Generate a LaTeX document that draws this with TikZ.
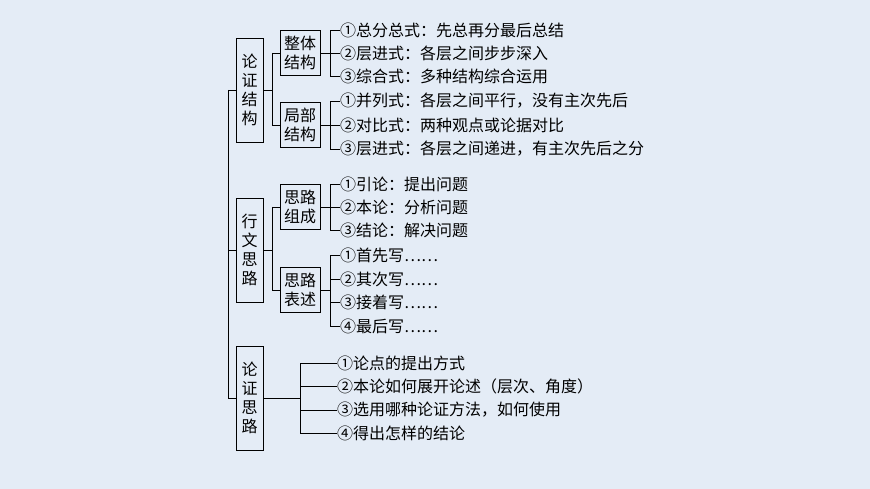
\documentclass[tikz,border=0pt]{standalone}
\usepackage{fontspec}
\newfontfamily\cjk{Noto Sans CJK SC}
\definecolor{bgblue}{HTML}{E4ECF6}
\tikzset{
  kasse/.style={draw, line width=0.8pt, fill=bgblue, inner sep=2pt, align=center, font=\cjk\fontsize{16}{19}\selectfont},
  hoved/.style={kasse, minimum width=27pt, minimum height=104pt, text width=18pt},
  under/.style={kasse, minimum width=40pt, minimum height=45pt},
  blad/.style={anchor=west, inner sep=0pt, font=\cjk\fontsize{16}{18}\selectfont},
  linje/.style={line width=0.8pt}
}
\begin{document}
\begin{tikzpicture}[x=1pt,y=-1pt]
	% Bakgrunn
	\fill[bgblue] (0,0) rectangle (870,489);
	\useasboundingbox (0,0) rectangle (870,489);
	
	% Hovedbokser
	\node[hoved] (lzjg) at (249.5,90) {论\\证\\结\\构};
	\node[hoved] (xwsl) at (249.5,250) {行\\文\\思\\路};
	\node[hoved] (lzsl) at (249.5,398) {论\\证\\思\\路};
	
	% Ryggrad
	\coordinate (rygg) at (228,0);
	\draw[linje] (rygg |- lzjg.west) -- (rygg |- lzsl.west);
	\foreach \b in {lzjg,xwsl,lzsl}
	\draw[linje] (rygg |- \b.west) -- (\b.west);
	
	% Underbokser
	\node[under] (ztjg) at (300,53) {整体\\结构};
	\node[under] (jbjg) at (300,125) {局部\\结构};
	\node[under] (slzc) at (300,207) {思路\\组成};
	\node[under] (slbs) at (300,290) {思路\\表述};
	
	% Forgreninger fra hovedbokser
	\coordinate (g1) at (272,0);
	\draw[linje] (lzjg.east) -- (g1 |- lzjg.east);
	\draw[linje] (g1 |- ztjg.west) -- (g1 |- jbjg.west);
	\draw[linje] (g1 |- ztjg.west) -- (ztjg.west);
	\draw[linje] (g1 |- jbjg.west) -- (jbjg.west);
	\draw[linje] (xwsl.east) -- (g1 |- xwsl.east);
	\draw[linje] (g1 |- slzc.west) -- (g1 |- slbs.west);
	\draw[linje] (g1 |- slzc.west) -- (slzc.west);
	\draw[linje] (g1 |- slbs.west) -- (slbs.west);
	
	% Blader
	\node[blad] (a1) at (340,30) {①总分总式：先总再分最后总结};
	\node[blad] (a2) at (340,53) {②层进式：各层之间步步深入};
	\node[blad] (a3) at (340,76) {③综合式：多种结构综合运用};
	\node[blad] (b1) at (340,101) {①并列式：各层之间平行，没有主次先后};
	\node[blad] (b2) at (340,125) {②对比式：两种观点或论据对比};
	\node[blad] (b3) at (340,149) {③层进式：各层之间递进，有主次先后之分};
	\node[blad] (c1) at (340,184) {①引论：提出问题};
	\node[blad] (c2) at (340,207) {②本论：分析问题};
	\node[blad] (c3) at (340,230) {③结论：解决问题};
	\node[blad] (d1) at (340,255) {①首先写……};
	\node[blad] (d2) at (340,279) {②其次写……};
	\node[blad] (d3) at (340,302) {③接着写……};
	\node[blad] (d4) at (340,326) {④最后写……};
	\node[blad] (e1) at (337,363) {①论点的提出方式};
	\node[blad] (e2) at (337,386) {②本论如何展开论述（层次、角度）};
	\node[blad] (e3) at (337,410) {③选用哪种论证方法，如何使用};
	\node[blad] (e4) at (337,433) {④得出怎样的结论};
	
	% Klammer til blader
	\coordinate (g2) at (330,0);
	\draw[linje] (ztjg.east) -- (g2 |- ztjg.east);
	\draw[linje] (a1.west) -- (g2 |- a1.west) -- (g2 |- a3.west) -- (a3.west);
	\draw[linje] (jbjg.east) -- (g2 |- jbjg.east);
	\draw[linje] (b1.west) -- (g2 |- b1.west) -- (g2 |- b3.west) -- (b3.west);
	\draw[linje] (slzc.east) -- (g2 |- slzc.east);
	\draw[linje] (c1.west) -- (g2 |- c1.west) -- (g2 |- c3.west) -- (c3.west);
	\draw[linje] (slbs.east) -- (g2 |- slbs.east);
	\draw[linje] (d1.west) -- (g2 |- d1.west) -- (g2 |- d4.west) -- (d4.west);
	\foreach \n in {a2,b2,c2,d2,d3}
	\draw[linje] (g2 |- \n.west) -- (\n.west);
	
	% Siste gruppe
	\coordinate (g3) at (300,0);
	\draw[linje] (lzsl.east) -- (g3 |- lzsl.east);
	\draw[linje] (g3 |- e1.west) -- (g3 |- e4.west);
	\foreach \n in {e1,e2,e3,e4}
	\draw[linje] (g3 |- \n.west) -- (\n.west);
\end{tikzpicture}
\end{document}
